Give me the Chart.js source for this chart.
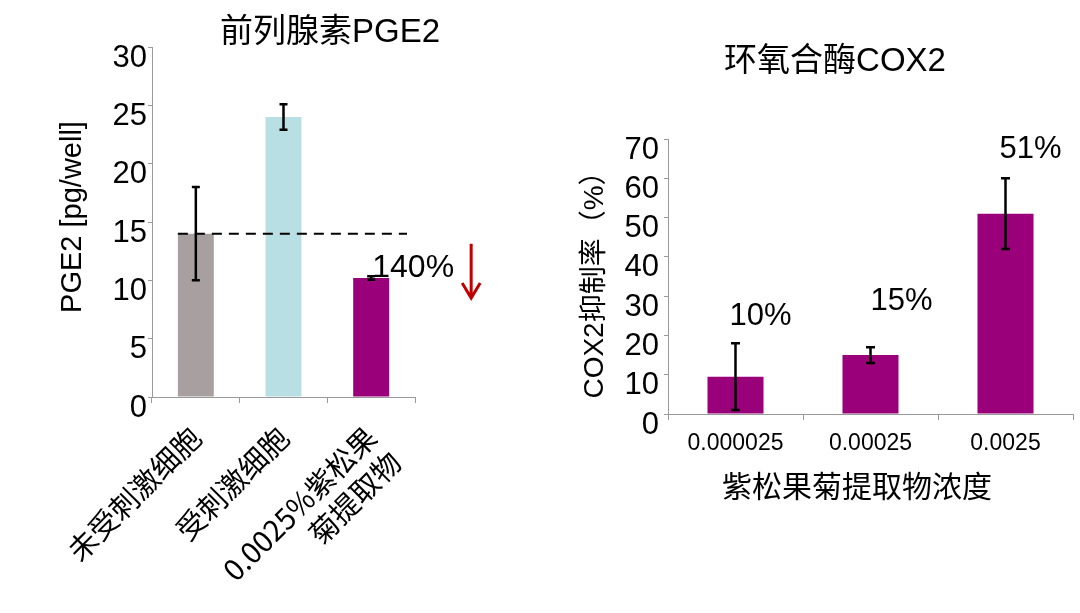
<!DOCTYPE html>
<html>
<head>
<meta charset="utf-8">
<script src="https://cdn.jsdelivr.net/npm/chart.js@4.4.1/dist/chart.umd.min.js"></script>
<style>
  body { margin: 0; background: #fff; width: 1080px; height: 613px; overflow: hidden; position: relative; }
  .box { position: absolute; top: 0; width: 540px; height: 613px; }
</style>
</head>
<body>
<div class="box" style="left:0"><canvas id="pge2"></canvas></div>
<div class="box" style="left:540px"><canvas id="cox2"></canvas></div>
<script>
const LATIN = '"Liberation Sans", Arial, "Noto Sans CJK SC", sans-serif';
const CJK = '"Noto Sans CJK SC", "Liberation Sans", sans-serif';

// left chart: PGE2
const pgeGroups = ['未受刺激细胞', '受刺激细胞', ['0.0025%紫松果', '菊提取物']];
const pgeValues = [14, 24, 10.2];
const pgeErrors = [4, 1.1, 0.15];
const pgeTicks = [0, 5, 10, 15, 20, 25, 30];
const pgeBaseline = 14;
const pgeChange = '140%';

// right chart: COX2
const coxDoses = ['0.000025', '0.00025', '0.0025'];
const coxValues = [9.5, 15, 51];
const coxErrors = [8.5, 2, 9];
const coxLabels = ['10%', '15%', '51%'];
const coxTicks = [0, 10, 20, 30, 40, 50, 60, 70];

const AXIS = '#9a9a9a';

const errorBars = {
  id: 'errorBars',
  afterDatasetsDraw(chart, args, opts) {
    const { ctx } = chart;
    const y = chart.scales.y;
    const ds = chart.data.datasets[0];
    ctx.save();
    ctx.strokeStyle = '#000';
    ctx.lineWidth = 2.5;
    chart.getDatasetMeta(0).data.forEach((bar, i) => {
      const v = ds.data[i], e = opts.errors[i];
      const top = y.getPixelForValue(v + e), bot = y.getPixelForValue(v - e);
      ctx.beginPath();
      ctx.moveTo(bar.x, top); ctx.lineTo(bar.x, bot);
      ctx.moveTo(bar.x - opts.cap, top); ctx.lineTo(bar.x + opts.cap, top);
      ctx.moveTo(bar.x - opts.cap, bot); ctx.lineTo(bar.x + opts.cap, bot);
      ctx.stroke();
    });
    ctx.restore();
  }
};

// titles and free text
const texts = {
  id: 'texts',
  afterDraw(chart, args, opts) {
    const { ctx } = chart;
    ctx.save();
    ctx.fillStyle = '#000';
    ctx.textAlign = 'center';
    ctx.textBaseline = 'middle';
    (opts.items || []).forEach(t => {
      ctx.save();
      ctx.font = t.font;
      ctx.translate(t.x, t.y);
      if (t.rot) ctx.rotate(t.rot);
      ctx.fillText(t.text, 0, 0);
      ctx.restore();
    });
    ctx.restore();
  }
};

// dashed reference line + change label + red arrow
const pgeExtras = {
  id: 'pgeExtras',
  afterDatasetsDraw(chart) {
    const { ctx } = chart;
    const y = chart.scales.y;
    const bars = chart.getDatasetMeta(0).data;
    const yb = y.getPixelForValue(pgeBaseline);
    ctx.save();
    ctx.strokeStyle = '#000';
    ctx.lineWidth = 2;
    ctx.setLineDash([10, 7]);
    ctx.beginPath();
    ctx.moveTo(bars[0].x - bars[0].width / 2, yb);
    ctx.lineTo(chart.chartArea.right - 8, yb);
    ctx.stroke();
    ctx.setLineDash([]);

    const b = bars[2];
    ctx.fillStyle = '#000';
    ctx.font = '32px ' + LATIN;
    ctx.textAlign = 'center';
    ctx.textBaseline = 'middle';
    ctx.fillText(pgeChange, b.x + 42, b.y - 10);

    const ax = b.x + 100, top = yb + 10, bot = b.y + 20;
    ctx.strokeStyle = '#c00000';
    ctx.lineWidth = 3;
    ctx.beginPath();
    ctx.moveTo(ax, top); ctx.lineTo(ax, bot);
    ctx.moveTo(ax - 9, bot - 15); ctx.lineTo(ax, bot); ctx.lineTo(ax + 9, bot - 15);
    ctx.stroke();
    ctx.restore();
  }
};

const coxValueLabels = {
  id: 'coxValueLabels',
  afterDatasetsDraw(chart, args, opts) {
    const { ctx } = chart;
    const y = chart.scales.y;
    ctx.save();
    ctx.fillStyle = '#000';
    ctx.font = '31px ' + LATIN;
    ctx.textAlign = 'center';
    ctx.textBaseline = 'middle';
    chart.getDatasetMeta(0).data.forEach((bar, i) => {
      const top = y.getPixelForValue(coxValues[i] + coxErrors[i]);
      ctx.fillText(coxLabels[i], bar.x + opts.dx[i], top + opts.dy[i]);
    });
    ctx.restore();
  }
};

function yScale(max, ticks, width, pad) {
  return {
    min: 0, max: max,
    afterBuildTicks: s => { s.ticks = ticks.map(v => ({ value: v })); },
    afterFit: s => { s.width = width; },
    border: { display: true, color: AXIS, width: 1 },
    grid: { drawOnChartArea: false, drawTicks: true, tickLength: 4, color: AXIS },
    ticks: { color: '#000', font: { size: 31, family: LATIN }, padding: pad, labelOffset: 11, autoSkip: false }
  };
}

new Chart(document.getElementById('pge2'), {
  type: 'bar',
  data: {
    labels: pgeGroups,
    datasets: [{
      data: pgeValues,
      backgroundColor: ['#a8a0a0', '#b8dfe3', '#99007a'],
      barPercentage: 0.41,
      categoryPercentage: 1
    }]
  },
  options: {
    responsive: true,
    maintainAspectRatio: false,
    animation: false,
    layout: { padding: { left: 0, right: 125, top: 47, bottom: 0 } },
    scales: {
      x: {
        afterFit: s => { s.height = 216; },
        border: { display: true, color: AXIS, width: 1 },
        grid: { drawOnChartArea: false, drawTicks: true, tickLength: 6, color: AXIS, offset: true },
        ticks: {
          color: '#000', font: { size: 29, family: CJK }, autoSkip: false,
          minRotation: 45, maxRotation: 45, padding: 17, labelOffset: 0
        }
      },
      y: yScale(30, pgeTicks, 152, 1)
    },
    plugins: {
      legend: { display: false },
      tooltip: { enabled: false },
      errorBars: { errors: pgeErrors, cap: 4 },
      texts: {
        items: [
          { text: '前列腺素PGE2', x: 330, y: 33, font: '33px ' + LATIN },
          { text: 'PGE2 [pg/well]', x: 73, y: 217, rot: -Math.PI / 2, font: '29px ' + LATIN }
        ]
      }
    }
  },
  plugins: [errorBars, pgeExtras, texts]
});

new Chart(document.getElementById('cox2'), {
  type: 'bar',
  data: {
    labels: coxDoses,
    datasets: [{
      data: coxValues,
      backgroundColor: '#99007a',
      barPercentage: 0.415,
      categoryPercentage: 1
    }]
  },
  options: {
    responsive: true,
    maintainAspectRatio: false,
    animation: false,
    layout: { padding: { left: 0, right: 7, top: 139, bottom: 0 } },
    scales: {
      x: {
        afterFit: s => { s.height = 199; },
        border: { display: true, color: AXIS, width: 1 },
        grid: { drawOnChartArea: false, drawTicks: true, tickLength: 6, color: AXIS, offset: true },
        ticks: { color: '#000', font: { size: 23, family: LATIN }, padding: 10, maxRotation: 0 }
      },
      y: yScale(70, coxTicks, 128, 5)
    },
    plugins: {
      legend: { display: false },
      tooltip: { enabled: false },
      errorBars: { errors: coxErrors, cap: 4.5 },
      coxValueLabels: { dx: [25, 31, 25], dy: [-27, -46, -29] },
      texts: {
        items: [
          { text: '环氧合酶COX2', x: 295, y: 62, font: '33px ' + LATIN },
          { text: 'COX2抑制率（%）', x: 55, y: 278, rot: -Math.PI / 2, font: '28px ' + LATIN },
          { text: '紫松果菊提取物浓度', x: 317, y: 489, font: '30px ' + LATIN }
        ]
      }
    }
  },
  plugins: [errorBars, coxValueLabels, texts]
});
</script>
</body>
</html>
